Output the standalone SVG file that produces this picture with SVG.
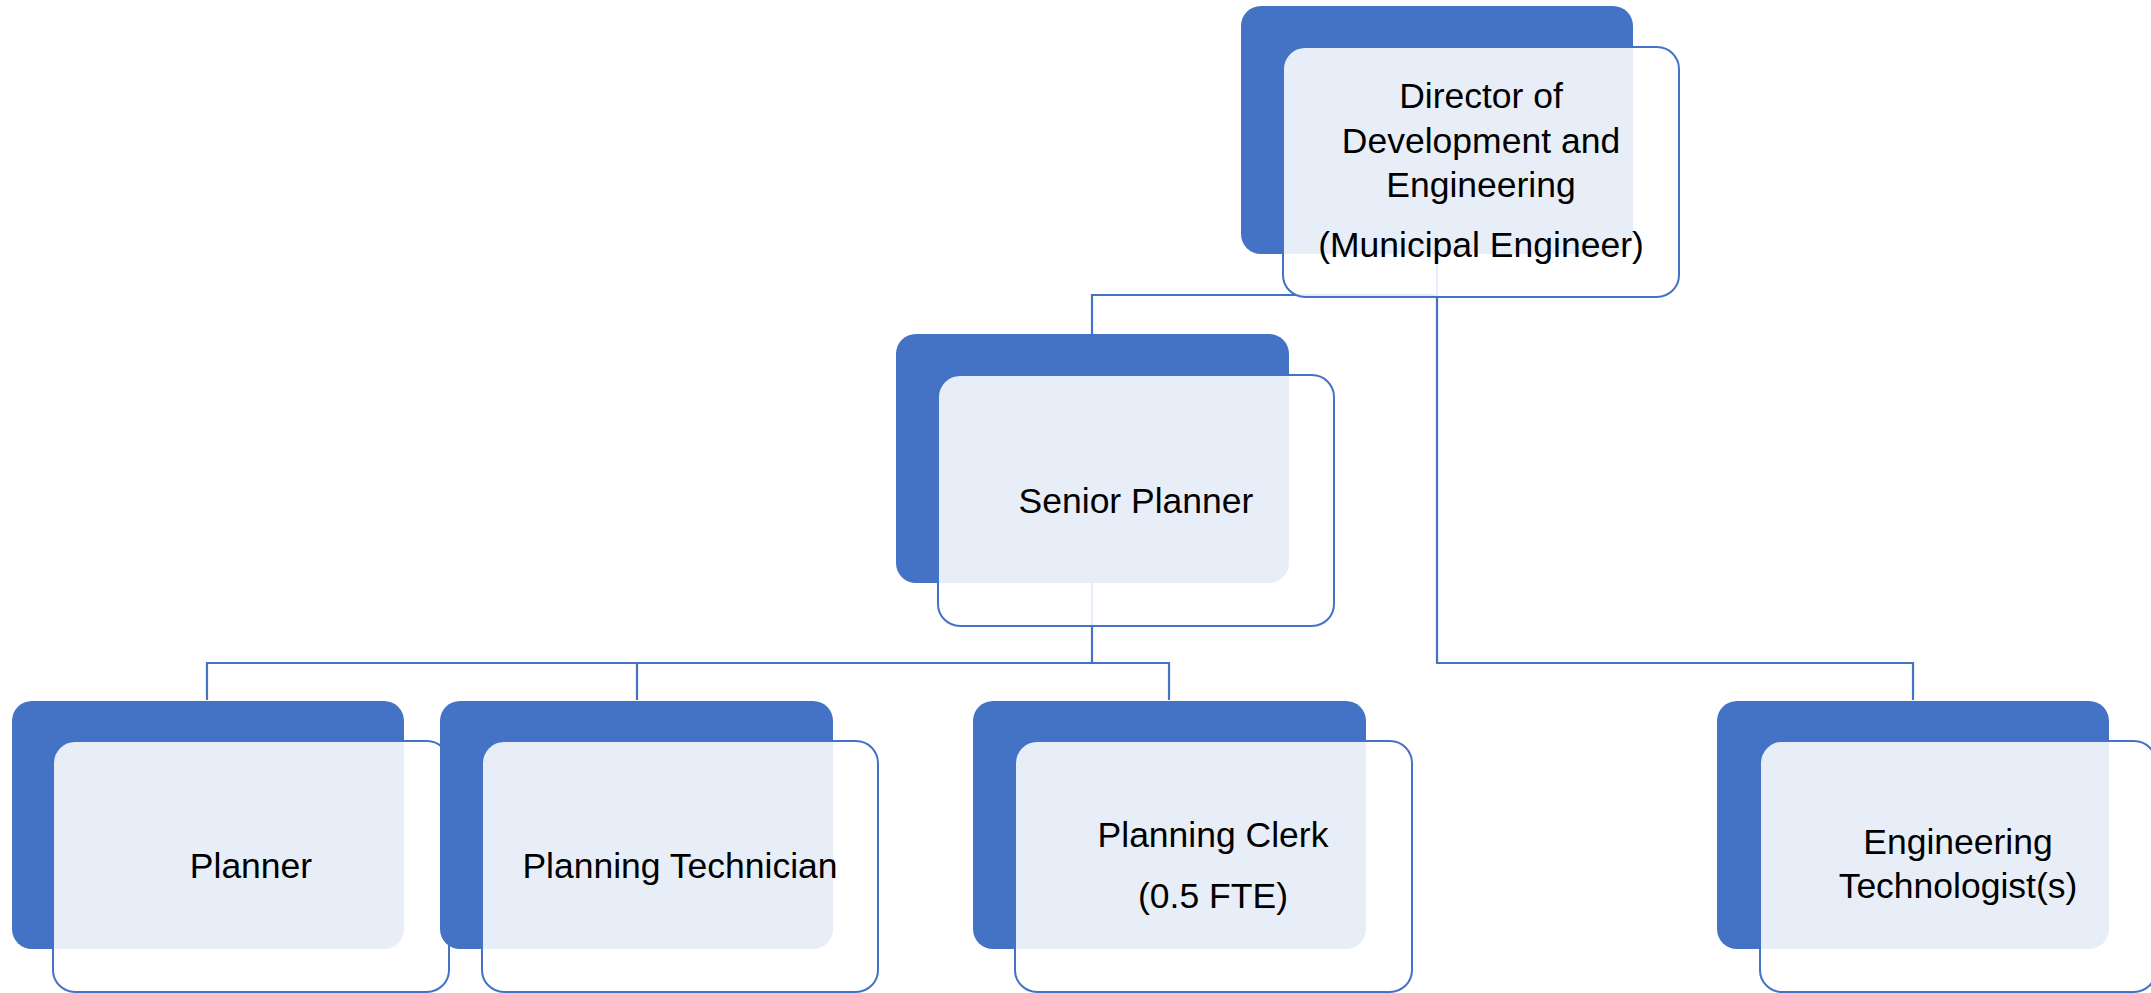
<svg xmlns="http://www.w3.org/2000/svg" width="2151" height="993" viewBox="0 0 2151 993">
<style>
.back{fill:#4472C4}
.front{fill:#FFFFFF;fill-opacity:0.88;stroke:#4472C4;stroke-width:2}
.conn{fill:none;stroke:#4472C4;stroke-width:2.2}
text{font-family:"Liberation Sans",Arial,sans-serif;font-size:35.5px;fill:#000;text-anchor:middle}
</style>
<rect width="2151" height="993" fill="#FFFFFF"/>
<g id="connectors">
<path class="conn" d="M1437 254 V663 H1913 V700"/>
<path class="conn" d="M1437 295 H1092 V334"/>
<path class="conn" d="M1092 583 V663"/>
<path class="conn" d="M207 700 V663 H1169 V700"/>
<path class="conn" d="M637 663 V700"/>
</g>
<g id="director">
<rect class="back" x="1241" y="6" width="392" height="248" rx="20"/>
<rect class="front" x="1283" y="47" width="396" height="250" rx="22"/>
<text x="1481" y="108">Director of</text>
<text x="1481" y="153">Development and</text>
<text x="1481" y="197">Engineering</text>
<text x="1481" y="257">(Municipal Engineer)</text>
</g>
<g id="senior-planner">
<rect class="back" x="896" y="334" width="393" height="249" rx="20"/>
<rect class="front" x="938" y="375" width="396" height="251" rx="22"/>
<text x="1136" y="513">Senior Planner</text>
</g>
<g id="planner">
<rect class="back" x="12" y="701" width="392" height="248" rx="20"/>
<rect class="front" x="53" y="741" width="396" height="251" rx="22"/>
<text x="251" y="878">Planner</text>
</g>
<g id="planning-technician">
<rect class="back" x="440" y="701" width="393" height="248" rx="20"/>
<rect class="front" x="482" y="741" width="396" height="251" rx="22"/>
<text x="680" y="878">Planning Technician</text>
</g>
<g id="planning-clerk">
<rect class="back" x="973" y="701" width="393" height="248" rx="20"/>
<rect class="front" x="1015" y="741" width="397" height="251" rx="22"/>
<text x="1213" y="847">Planning Clerk</text>
<text x="1213" y="908">(0.5 FTE)</text>
</g>
<g id="engineering-technologists">
<rect class="back" x="1717" y="701" width="392" height="248" rx="20"/>
<rect class="front" x="1760" y="741" width="396" height="251" rx="22"/>
<text x="1958" y="854">Engineering</text>
<text x="1958" y="898">Technologist(s)</text>
</g>
</svg>
